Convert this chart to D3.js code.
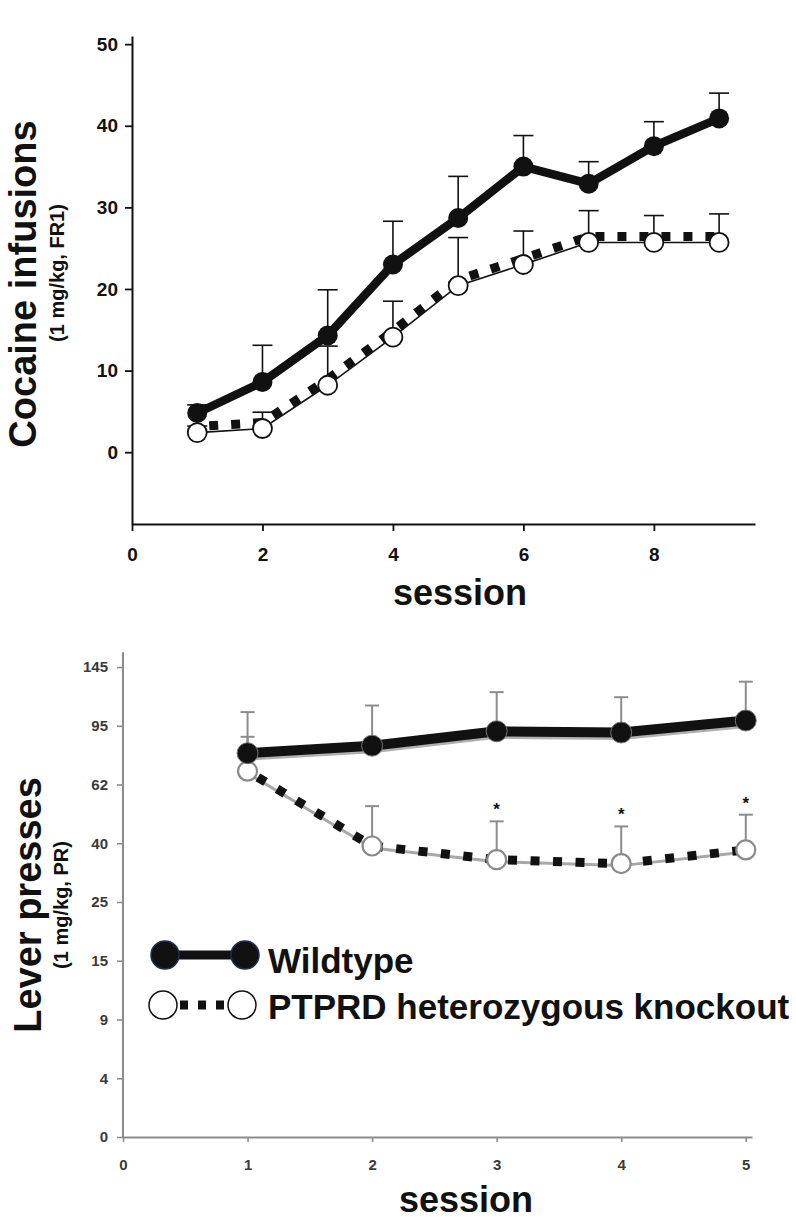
<!DOCTYPE html>
<html>
<head>
<meta charset="utf-8">
<script src="https://cdn.jsdelivr.net/npm/d3@7"></script>
<style>
  html, body { margin: 0; padding: 0; background: #fff; }
  svg { display: block; }
  text { font-family: "Liberation Sans", Arial, Helvetica, sans-serif; }
</style>
</head>
<body>
<svg id="chart" width="796" height="1228"></svg>
<script>
// ---------------- data ----------------
// Top panel: cocaine infusions (FR1), sessions 1-9
const topSessions = [1, 2, 3, 4, 5, 6, 7, 8, 9];
const topWildtype = [4.8, 8.6, 14.3, 23.0, 28.7, 35.0, 32.9, 37.5, 40.9];
const topWildtypeSem = [1.0, 4.5, 5.6, 5.3, 5.1, 3.8, 2.7, 3.0, 3.1];
const topKnockout = [2.4, 2.9, 8.2, 14.1, 20.4, 23.0, 25.7, 25.7, 25.7];
const topKnockoutSem = [0.8, 2.0, 4.8, 4.4, 5.9, 4.1, 3.9, 3.3, 3.5];
const topYTicks = [0, 10, 20, 30, 40, 50];
const topXTicks = [0, 2, 4, 6, 8];

// Bottom panel: lever presses (PR), sessions 1-5
const botSessions = [1, 2, 3, 4, 5];
const botWildtype = [79.6, 83.8, 91.9, 91.2, 99.5];
const botWildtypeUpper = [106.6, 112.2, 123.6, 119.3, 132.5];
const botKnockout = [69.5, 39.3, 35.8, 34.8, 38.3];
const botKnockoutUpper = [88.8, 53.9, 48.2, 46.3, 50.7];
const botSignificance = ["", "", "*", "*", "*"];
const botYTicks = [0, 4, 9, 15, 25, 40, 62, 95, 145];
const botXTicks = [0, 1, 2, 3, 4, 5];

const legendLabels = ["Wildtype", "PTPRD heterozygous knockout"];

// ---------------- setup ----------------
const svg = d3.select("#chart");
const FONT = '"Liberation Sans", Arial, Helvetica, sans-serif';

// ================= TOP PANEL =================
const xT = d3.scaleLinear().domain([0, 9.55]).range([132, 755]);
const yT = d3.scaleLinear().domain([-8.8, 51]).range([524, 36]);
const gT = svg.append("g");

const yAxisT = gT.append("g").attr("transform", `translate(${xT(0)},0)`)
  .call(d3.axisLeft(yT).tickValues(topYTicks).tickSize(7).tickSizeOuter(0).tickPadding(7));
const xAxisT = gT.append("g").attr("transform", `translate(0,${yT.range()[0]})`)
  .call(d3.axisBottom(xT).tickValues(topXTicks).tickSize(7).tickSizeOuter(0).tickPadding(17));
[yAxisT, xAxisT].forEach(a => {
  a.select(".domain").attr("stroke", "#111").attr("stroke-width", 2);
  a.selectAll(".tick line").attr("stroke", "#111").attr("stroke-width", 1.8);
  a.selectAll(".tick text").attr("fill", "#111").style("font-family", FONT)
    .style("font-weight", "bold").style("font-size", "19px");
});

const capT = 10;
const errT = (g, xs, ys, sems, color) => {
  const e = g.append("g");
  xs.forEach((s, i) => {
    const x = xT(s), y0 = yT(ys[i]), y1 = yT(ys[i] + sems[i]);
    e.append("line").attr("x1", x).attr("x2", x).attr("y1", y0).attr("y2", y1)
      .attr("stroke", color).attr("stroke-width", 1.6);
    e.append("line").attr("x1", x - capT).attr("x2", x + capT).attr("y1", y1).attr("y2", y1)
      .attr("stroke", color).attr("stroke-width", 1.6);
  });
};
errT(gT, topSessions, topKnockout, topKnockoutSem, "#111");
errT(gT, topSessions, topWildtype, topWildtypeSem, "#111");

const lineT = d3.line().x((d, i) => xT(topSessions[i])).y(d => yT(d));

gT.append("path").attr("d", lineT(topKnockout)).attr("fill", "none")
  .attr("stroke", "#111").attr("stroke-width", 1.6);
gT.append("path").attr("d", lineT(topKnockout)).attr("fill", "none")
  .attr("transform", "translate(0,-6)")
  .attr("stroke", "#111").attr("stroke-width", 9).attr("stroke-dasharray", "9,13")
  .attr("stroke-dashoffset", -12);

gT.append("path").attr("d", lineT(topWildtype)).attr("fill", "none")
  .attr("stroke", "#111").attr("stroke-width", 8.5);

gT.selectAll("circle.ko").data(topKnockout).enter().append("circle")
  .attr("cx", (d, i) => xT(topSessions[i])).attr("cy", d => yT(d)).attr("r", 9.5)
  .attr("fill", "#fff").attr("stroke", "#111").attr("stroke-width", 1.8);
gT.selectAll("circle.wt").data(topWildtype).enter().append("circle")
  .attr("cx", (d, i) => xT(topSessions[i])).attr("cy", d => yT(d)).attr("r", 10)
  .attr("fill", "#111");

gT.append("text").attr("transform", `translate(36,284) rotate(-90)`)
  .attr("text-anchor", "middle").style("font-weight", "bold").style("font-size", "38px")
  .attr("fill", "#111").text("Cocaine infusions");
gT.append("text").attr("transform", `translate(64,273) rotate(-90)`)
  .attr("text-anchor", "middle").style("font-weight", "bold").style("font-size", "20px")
  .attr("fill", "#111").text("(1 mg/kg, FR1)");
gT.append("text").attr("x", 460).attr("y", 605).attr("text-anchor", "middle")
  .style("font-weight", "bold").style("font-size", "36px").attr("fill", "#111").text("session");

// ================= BOTTOM PANEL =================
const xB = d3.scaleLinear().domain([0, 5.05]).range([123, 752]);
const yIdx = d3.scaleLinear().domain([0, botYTicks.length - 1]).range([1137, 667]);
const yB = d3.scaleLinear().domain(botYTicks).range(botYTicks.map((d, i) => yIdx(i)));
const gB = svg.append("g");
const AX = "#8c8c8c";

const yAxisB = gB.append("g").attr("transform", `translate(${xB(0)},0)`)
  .call(d3.axisLeft(yB).tickValues(botYTicks).tickFormat(d3.format("d")).tickSize(6).tickSizeOuter(0).tickPadding(9));
const xAxisB = gB.append("g").attr("transform", `translate(0,${yB(0)})`)
  .call(d3.axisBottom(xB).tickValues(botXTicks).tickFormat(d3.format("d")).tickSize(5).tickSizeOuter(0).tickPadding(17));
yAxisB.select(".domain").attr("d", `M0,${yB(0)}V${yIdx(botYTicks.length - 0.75)}`);
[yAxisB, xAxisB].forEach(a => {
  a.select(".domain").attr("stroke", AX).attr("stroke-width", 2);
  a.selectAll(".tick line").attr("stroke", AX).attr("stroke-width", 1.6);
  a.selectAll(".tick text").attr("fill", "#3a3a3a").style("font-family", FONT)
    .style("font-weight", "bold").style("font-size", "15px");
});

const capB = 7;
const errB = (means, uppers) => {
  const e = gB.append("g");
  botSessions.forEach((s, i) => {
    const x = xB(s), y0 = yB(means[i]), y1 = yB(uppers[i]);
    e.append("line").attr("x1", x).attr("x2", x).attr("y1", y0).attr("y2", y1)
      .attr("stroke", AX).attr("stroke-width", 2);
    e.append("line").attr("x1", x - capB).attr("x2", x + capB).attr("y1", y1).attr("y2", y1)
      .attr("stroke", AX).attr("stroke-width", 2);
  });
};
errB(botKnockout, botKnockoutUpper);
errB(botWildtype, botWildtypeUpper);

gB.selectAll("text.sig").data(botSignificance).enter().append("text")
  .attr("x", (d, i) => xB(botSessions[i]))
  .attr("y", (d, i) => yB(botKnockoutUpper[i]) - 6)
  .attr("text-anchor", "middle").style("font-weight", "bold").style("font-size", "17px")
  .attr("fill", "#111").text(d => d);

const lineB = d3.line().x((d, i) => xB(botSessions[i])).y(d => yB(d));

gB.append("path").attr("d", lineB(botKnockout)).attr("fill", "none")
  .attr("stroke", "#a8a8a8").attr("stroke-width", 3).attr("transform", "translate(0,2)");
gB.append("path").attr("d", lineB(botKnockout)).attr("fill", "none")
  .attr("stroke", "#111").attr("stroke-width", 9).attr("stroke-dasharray", "9,13.5")
  .attr("stroke-dashoffset", -12);

gB.append("path").attr("d", lineB(botWildtype)).attr("fill", "none")
  .attr("stroke", "#b0b0b0").attr("stroke-width", 9).attr("transform", "translate(0,3)");
gB.append("path").attr("d", lineB(botWildtype)).attr("fill", "none")
  .attr("stroke", "#111").attr("stroke-width", 10);

gB.selectAll("circle.ko").data(botKnockout).enter().append("circle")
  .attr("cx", (d, i) => xB(botSessions[i])).attr("cy", d => yB(d)).attr("r", 9.5)
  .attr("fill", "#fff").attr("stroke", "#8a8a8a").attr("stroke-width", 2.2);
gB.selectAll("circle.wt").data(botWildtype).enter().append("circle")
  .attr("cx", (d, i) => xB(botSessions[i])).attr("cy", d => yB(d)).attr("r", 10.5)
  .attr("fill", "#111").attr("stroke", "#777").attr("stroke-width", 1);

gB.append("text").attr("transform", `translate(41,905) rotate(-90)`)
  .attr("text-anchor", "middle").style("font-weight", "bold").style("font-size", "38px")
  .attr("fill", "#111").text("Lever presses");
gB.append("text").attr("transform", `translate(68,905) rotate(-90)`)
  .attr("text-anchor", "middle").style("font-weight", "bold").style("font-size", "20px")
  .attr("fill", "#111").text("(1 mg/kg, PR)");
gB.append("text").attr("x", 466).attr("y", 1212).attr("text-anchor", "middle")
  .style("font-weight", "bold").style("font-size", "36px").attr("fill", "#111").text("session");

// legend
const lg = svg.append("g");
const rows = [{ y: 955, x1: 165, x2: 245 }, { y: 1005, x1: 163, x2: 242 }];
lg.append("line").attr("x1", rows[0].x1).attr("x2", rows[0].x2).attr("y1", rows[0].y).attr("y2", rows[0].y)
  .attr("stroke", "#111").attr("stroke-width", 9);
[rows[0].x1, rows[0].x2].forEach(x => lg.append("circle").attr("cx", x).attr("cy", rows[0].y).attr("r", 14)
  .attr("fill", "#111").attr("stroke", "#1c2c55").attr("stroke-width", 1.5));
lg.append("line").attr("x1", rows[1].x1 + 14).attr("x2", rows[1].x2 - 14).attr("y1", rows[1].y).attr("y2", rows[1].y)
  .attr("stroke", "#111").attr("stroke-width", 9).attr("stroke-dasharray", "8,10").attr("stroke-dashoffset", -3);
[rows[1].x1, rows[1].x2].forEach(x => lg.append("circle").attr("cx", x).attr("cy", rows[1].y).attr("r", 14)
  .attr("fill", "#fff").attr("stroke", "#111").attr("stroke-width", 1.5));
lg.selectAll("text").data(legendLabels).enter().append("text")
  .attr("x", 268).attr("y", (d, i) => rows[i].y + (i === 0 ? 18 : 14))
  .style("font-weight", "bold").style("font-size", "35px").attr("fill", "#111").text(d => d);
</script>
</body>
</html>
